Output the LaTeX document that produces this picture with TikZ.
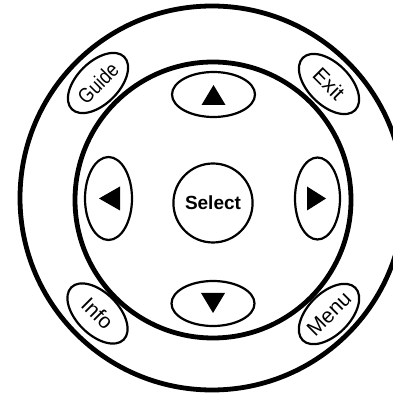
\documentclass[tikz,border=0pt]{standalone}
\usepackage{fontspec}
\setmainfont{Liberation Sans}
\usetikzlibrary{shapes.geometric}
\begin{document}
\begin{tikzpicture}[x=1pt,y=1pt,
  ring/.style={draw, circle, line width=4.8pt, inner sep=0pt},
  btn/.style={draw, ellipse, line width=2.2pt, inner sep=0pt},
  corner/.style={btn, minimum width=74pt, minimum height=42pt, font=\fontsize{21}{24}\selectfont},
  arrowtip/.style={fill=black}]
\useasboundingbox (0,0) rectangle (393,396);
\node[ring, minimum size=384pt] (outer) at (212,198) {};
\node[ring, minimum size=276pt] (inner) at (213,196) {};
\node[btn, minimum width=72pt, minimum height=79pt, font=\bfseries\fontsize{19}{22}\selectfont] (select) at (213,193) {Select};
\node[btn, minimum width=83pt, minimum height=45pt] (up) at (213.5,301.5) {};
\node[btn, minimum width=83pt, minimum height=45pt] (down) at (213,92.5) {};
\node[btn, minimum width=47pt, minimum height=83pt] (left) at (108.5,197.5) {};
\node[btn, minimum width=45pt, minimum height=82pt] (right) at (317.5,197.5) {};
\fill[arrowtip] (up.center) ++(0,9.5) -- ++(-12,-20) -- ++(24,0) -- cycle;
\fill[arrowtip] (down.center) ++(0,-9.5) -- ++(-12,20) -- ++(24,0) -- cycle;
\fill[arrowtip] (left.center) ++(-9.5,0) -- ++(21,12) -- ++(0,-24) -- cycle;
\fill[arrowtip] (right.center) ++(8.5,0) -- ++(-19,12) -- ++(0,-24) -- cycle;
\node[corner, rotate=45] (guide) at (98,313) {\scalebox{0.85}[1]{Guide}};
\node[corner, rotate=-45] (exit) at (329,312) {Exit};
\node[corner, rotate=-45] (info) at (97.5,82.5) {Info};
\node[corner, rotate=45] (menu) at (329,82) {Menu};
\end{tikzpicture}
\end{document}
